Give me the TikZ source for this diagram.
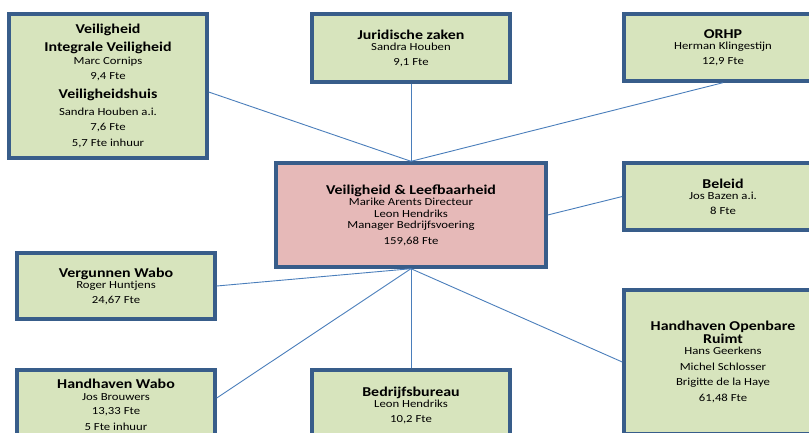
\documentclass[tikz,border=0pt]{standalone}
\usepackage{fontspec}
\setmainfont{Carlito}[FakeStretch=1.18]
\usepackage{tikz}
\definecolor{boxgreen}{HTML}{D7E4BD}
\definecolor{boxred}{HTML}{E6B9B8}
\definecolor{boxborder}{HTML}{385D8A}
\definecolor{linkblue}{HTML}{4A7EBB}
\newcommand{\hd}[1]{{\fontsize{13.5}{14}\selectfont\bfseries #1}}
\tikzstyle{block} = [draw=boxborder, line width=3.4pt, rectangle, fill=boxgreen, minimum width=198pt, align=center, inner sep=2pt, font=\fontsize{10.8}{11.5}\selectfont]
\tikzstyle{link} = [draw=linkblue, line width=0.9pt]

\begin{document}
\begin{tikzpicture}[x=1pt, y=-1pt]
	\useasboundingbox (0,0) rectangle (809,432);
	% boxes
	\node (VEIL) [block, minimum height=144pt] at (108,86) {\hd{Veiligheid}\\[5pt]
		\hd{Integrale Veiligheid}\\[2pt] Marc Cornips\\[3pt] 9,4 Fte\\[8pt]
		\hd{Veiligheidshuis}\\[5pt] Sandra Houben a.i.\\[4pt] 7,6 Fte\\[4pt] 5,7 Fte inhuur};
	\node (JUR) [block, minimum height=68pt] at (411,48) {\hd{Juridische zaken}\\ Sandra Houben\\[3pt] 9,1 Fte};
	\node (ORHP) [block, minimum height=67pt] at (723,47.5) {\hd{ORHP}\\ Herman Klingestijn\\[3pt] 12,9 Fte};
	\node (VL) [block, fill=boxred, minimum width=270pt, minimum height=104pt] at (411,215) {\hd{Veiligheid \& Leefbaarheid}\\[0pt]
		Marike Arents Directeur\\ Leon Hendriks\\ Manager Bedrijfsvoering\\[4pt] 159,68 Fte};
	\node (BEL) [block, minimum height=67pt] at (723,196.5) {\hd{Beleid}\\ Jos Bazen a.i.\\[3pt] 8 Fte};
	\node (VERG) [block, minimum height=66pt] at (116,286) {\hd{Vergunnen Wabo}\\ Roger Huntjens\\[3pt] 24,67 Fte};
	\node (HWABO) [block, minimum height=70pt] at (116,405) {\hd{Handhaven Wabo}\\ Jos Brouwers\\[3pt] 13,33 Fte\\[4pt] 5 Fte inhuur};
	\node (BEDR) [block, minimum height=70pt] at (411,405) {\hd{Bedrijfsbureau}\\ Leon Hendriks\\[3pt] 10,2 Fte};
	\node (HOR) [block, minimum height=144pt] at (723,362) {\hd{Handhaven Openbare}\\ \hd{Ruimt}\\ Hans Geerkens\\[4pt]
		Michel Schlosser\\[4pt] Brigitte de la Haye\\[4pt] 61,48 Fte};
	% links
	\draw[link] ([yshift=-6pt]VEIL.east) -- (VL.north);
	\draw[link] (JUR.south) -- (VL.north);
	\draw[link] (ORHP.south) -- (VL.north);
	\draw[link] (BEL.west) -- (VL.east);
	\draw[link] (VL.south) -- (VERG.east);
	\draw[link] (VL.south) -- ([yshift=7pt]HWABO.east);
	\draw[link] (VL.south) -- (BEDR.north);
	\draw[link] (VL.south) -- (HOR.west);
\end{tikzpicture}
\end{document}
